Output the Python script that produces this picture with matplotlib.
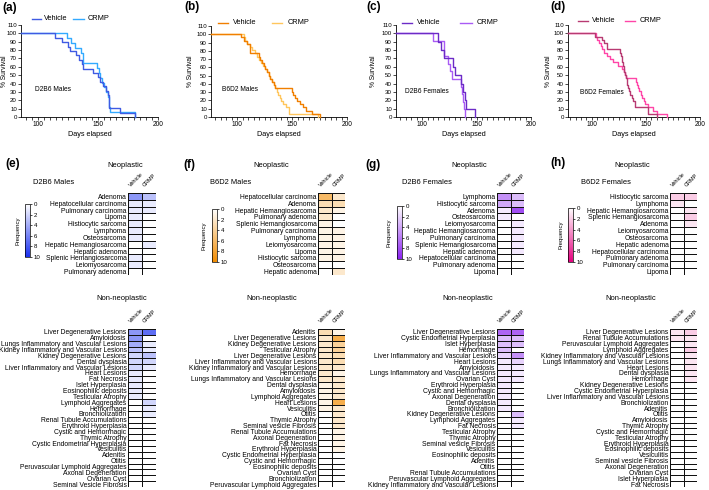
import numpy as np
import matplotlib
matplotlib.use('Agg')
import matplotlib.pyplot as plt
from matplotlib.colors import LinearSegmentedColormap, Normalize
from matplotlib.lines import Line2D
import matplotlib.cm as cm
from matplotlib.ticker import MultipleLocator

plt.rcParams['font.family'] = ['Liberation Sans', 'DejaVu Sans']

# ---------------- survival data (days, % survival after each event) ----------------
a_veh_t = [114, 120, 125, 127, 132, 134, 136.5, 138, 146, 150, 152, 154.5, 156.5, 158, 159.5, 168, 181]
a_veh_s = [94.7, 89.5, 84.2, 78.9, 73.7, 68.4, 63.2, 57.9, 52.6, 47.4, 42.1, 36.8, 31.6, 26.3, 10.5, 5.3, 0]
a_crmp_t = [124, 128, 131, 136, 138, 149, 150.5, 152, 153, 155, 157, 158, 159, 159.5, 160, 181]
a_crmp_s = [94.1, 88.2, 82.4, 76.5, 64.7, 58.8, 52.9, 47.1, 41.2, 35.3, 29.4, 23.5, 17.6, 11.8, 5.9, 0]

b_veh_t = [103.5, 106, 109, 112, 119.5, 121, 122.5, 124, 125.5, 127, 128.5, 130, 131.5, 133, 134.5,
           149.5, 151, 152.5, 154, 157, 160, 163, 168, 175.5]
b_veh_s = [96.2, 92.3, 88.5, 76.9, 73.1, 69.2, 65.4, 61.5, 57.7, 53.8, 50.0, 46.2, 42.3, 38.5, 34.6,
           30.8, 26.9, 23.1, 19.2, 15.4, 11.5, 7.7, 3.8, 0]
b_crmp_t = [106, 107, 109, 112, 113, 116, 118, 120, 121.5, 123.5, 125.5, 127, 128.5, 130, 131.5, 133,
            134.5, 136, 137, 138.5, 140, 142, 144, 147, 174]
b_crmp_s = [96.2, 92.3, 88.5, 84.6, 80.8, 76.9, 73.1, 69.2, 65.4, 61.5, 57.7, 53.8, 50.0, 46.2, 42.3, 38.5,
            34.6, 30.8, 26.9, 23.1, 19.2, 15.4, 11.5, 3.8, 0]

c_veh_t = [115, 117, 120.3, 128, 130.3, 136, 137.6, 139, 140.6, 149]
c_veh_s = [90, 80, 70, 60, 50, 40, 30, 20, 10, 0]
c_crmp_t = [110.3, 120, 124, 125.5, 127, 135.5, 136.5, 137.5, 138.3, 139]
c_crmp_s = [90.9, 72.7, 63.6, 54.5, 45.5, 36.4, 27.3, 18.2, 9.1, 0]

d_veh_t = [102.8, 109.6, 111.4, 113.6, 125.9, 126.9, 127.5, 128.1, 129, 129.6, 130.2, 130.9, 131.5,
           132.1, 132.7, 133.3, 134.3, 135.5, 136.7, 138.3, 139.8, 152.2, 159.9]
d_veh_s = [96.2, 92.3, 88.5, 80.8, 76.9, 73.1, 69.2, 65.4, 61.5, 57.7, 53.8, 50, 46.2,
           42.3, 38.5, 34.6, 30.8, 26.9, 23.1, 19.2, 11.5, 3.8, 0]
d_crmp_t = [104.3, 105.2, 106.5, 108.3, 109.6, 111.1, 113.6, 116.7, 119.8, 124.4, 128.1, 129.6, 130.6,
            131.8, 140.4, 141.4, 142.3, 143.8, 145.1, 146.6, 147.8, 149.1, 152.2, 156.8, 159.9, 169.1]
d_crmp_s = [96.2, 92.3, 88.5, 84.6, 80.8, 76.9, 73.1, 69.2, 65.4, 61.5, 57.7, 53.8, 50,
            46.2, 42.3, 38.5, 34.6, 30.8, 26.9, 23.1, 19.2, 15.4, 11.5, 7.7, 3.8, 0]

y_ticks = list(range(0, 111, 10))
x_labels = [100, 150, 200]

# ---------------- heatmap data ----------------
e_neo_labels = ['Adenoma', 'Hepatocellular carcinoma', 'Pulmonary carcinoma', 'Lipoma', 'Histiocytic sarcoma',
                'Lymphoma', 'Osteosarcoma', 'Hepatic Hemangiosarcoma', 'Hepatic adenoma',
                'Splenic Hemangiosarcoma', 'Leiomyosarcoma', 'Pulmonary adenoma']
e_neo_veh = [5, 1, 1, 1, 1, 1, 1, 0, 0, 1, 1, 0]
e_neo_crmp = [3, 1, 1, 0, 0, 0, 0, 1, 0, 0, 0, 0]
e_non_labels = ['Liver Degenerative Lesions', 'Amyloidosis', 'Lungs Inflammatory and Vascular Lesions',
                'Kidney Inflammatory and Vascular Lesions', 'Kidney Degenerative Lesions', 'Dental dysplasia',
                'Liver Inflammatory and Vascular Lesions', 'Heart Lesions', 'Fat Necrosis', 'Islet Hyperplasia',
                'Eosinophilic deposits', 'Testicular Atrophy', 'Lymphoid Aggregates', 'Hemorrhage',
                'Bronchiolization', 'Renal Tubule Accumulations', 'Erythroid Hyperplasia', 'Cystic and Hemorrhagic',
                'Thymic Atrophy', 'Cystic Endometrial Hyperplasia', 'Vesiculitis', 'Adenitis', 'Otitis',
                'Peruvascular Lymphoid Aggregates', 'Axonal Degeneration', 'Ovarian Cyst', 'Seminal Vesicle Fibrosis']
e_non_veh = [5, 5, 4, 3, 2, 2, 2, 1, 1, 1, 1, 1, 0, 0, 0, 0, 0, 0, 0, 0, 0, 0, 0, 0, 0, 0, 0]
e_non_crmp = [7, 0, 1, 1, 3, 2, 1, 0, 0, 0, 0, 0, 2, 1, 1, 0, 0, 0, 0, 0, 0, 0, 0, 0, 0, 0, 0]

f_neo_labels = ['Hepatocellular carcinoma', 'Adenoma', 'Hepatic Hemangiosarcoma', 'Pulmonary adenoma',
                'Splenic Hemangiosarcoma', 'Pulmonary carcinoma', 'Lymphoma', 'Leiomyosarcoma', 'Lipoma',
                'Histiocytic sarcoma', 'Osteosarcoma', 'Hepatic adenoma']
f_neo_veh = [6, 3, 2, 2, 1, 1, 1, 1, 1, 1, 0, 0]
f_neo_crmp = [2, 3, 1, 0, 0, 1, 1, 1, 1, 1, 0, 2]
f_non_labels = ['Adenitis', 'Liver Degenerative Lesions', 'Kidney Degenerative Lesions', 'Testicular Atrophy',
                'Liver Degenerative Lesions', 'Liver Inflammatory and Vascular Lesions',
                'Kidney Inflammatory and Vascular Lesions', 'Hemorrhage', 'Lungs Inflammatory and Vascular Lesions',
                'Dental dysplasia', 'Amyloidosis', 'Lymphoid Aggregates', 'Heart Lesions', 'Vesiculitis', 'Otitis',
                'Thymic Atrophy', 'Seminal vesicle Fibrosis', 'Renal Tubule Accumulations', 'Axonal Degeneration',
                'Fat Necrosis', 'Erythroid Hyperplasia', 'Cystic Endometrial Hyperplasia', 'Cystic and Hemorrhagic',
                'Eosinophilic deposits', 'Ovarian Cyst', 'Bronchiolization', 'Peruvascular Lymphoid Aggregates']
f_non_veh = [3, 2, 2, 2, 2, 2, 2, 2, 2, 1, 1, 1, 1, 1, 0, 0, 0, 0, 0, 0, 0, 0, 0, 0, 0, 0, 0]
f_non_crmp = [1, 7, 4, 4, 3, 3, 2, 1, 2, 2, 2, 2, 7, 2, 2, 2, 2, 1, 1, 1, 1, 0, 0, 0, 0, 0, 0]

g_neo_labels = ['Lymphoma', 'Histiocytic sarcoma', 'Adenoma', 'Osteosarcoma', 'Leiomyosarcoma',
                'Hepatic Hemangiosarcoma', 'Pulmonary carcinoma', 'Splenic Hemangiosarcoma', 'Hepatic adenoma',
                'Hepatocellular carcinoma', 'Pulmonary adenoma', 'Lipoma']
g_neo_veh = [5, 4, 1, 1, 0, 0, 0, 0, 0, 0, 0, 0]
g_neo_crmp = [3, 3, 8, 0, 1, 1, 1, 1, 1, 0, 0, 0]
g_non_labels = ['Liver Degenerative Lesions', 'Cystic Endometrial Hyperplasia', 'Islet Hyperplasia', 'Hemorrhage',
                'Liver Inflammatory and Vascular Lesions', 'Heart Lesions', 'Amyloidosis',
                'Lungs Inflammatory and Vascular Lesions', 'Ovarian Cyst', 'Erythroid Hyperplasia',
                'Cystic and Hemorrhagic', 'Axonal Degeneration', 'Dental dysplasia', 'Bronchiolization',
                'Kidney Degenerative Lesions', 'Lymphoid Aggregates', 'Fat Necrosis', 'Testicular Atrophy',
                'Thymic Atrophy', 'Seminal vesicle Fibrosis', 'Vesiculitis', 'Eosinophilic deposits', 'Adenitis',
                'Otitis', 'Renal Tubule Accumulations', 'Peruvascular Lymphoid Aggregates',
                'Kidney Inflammatory and Vascular Lesions']
g_non_veh = [7, 3, 3, 3, 2, 1, 1, 1, 1, 1, 1, 1, 1, 1, 0, 0, 0, 0, 0, 0, 0, 0, 0, 0, 0, 0, 0]
g_non_crmp = [7, 3, 3, 0, 5, 2, 1, 1, 1, 0, 0, 0, 0, 0, 3, 1, 1, 0, 0, 0, 0, 0, 0, 0, 0, 0, 0]

h_neo_labels = ['Histiocytic sarcoma', 'Lymphoma', 'Hepatic Hemangiosarcoma', 'Splenic Hemangiosarcoma', 'Adenoma',
                'Leiomyosarcoma', 'Osteosarcoma', 'Hepatic adenoma', 'Hepatocellular carcinoma',
                'Pulmonary adenoma', 'Pulmonary carcinoma', 'Lipoma']
h_neo_veh = [2, 1, 0, 0, 0, 0, 0, 0, 0, 0, 0, 0]
h_neo_crmp = [2, 0, 1, 2, 1, 0, 0, 0, 0, 0, 0, 0]
h_non_labels = ['Liver Degenerative Lesions', 'Renal Tubule Accumulations', 'Peruvascular Lymphoid Aggregates',
                'Lymphoid Aggregates', 'Kidney Inflammatory and Vascular Lesions',
                'Lungs Inflammatory and Vascular Lesions', 'Heart Lesions', 'Dental dysplasia', 'Hemorrhage',
                'Kidney Degenerative Lesions', 'Cystic Endometrial Hyperplasia',
                'Liver Inflammatory and Vascular Lesions', 'Bronchiolization', 'Adenitis', 'Otitis', 'Amyloidosis',
                'Thymic Atrophy', 'Cystic and Hemorrhagic', 'Testicular Atrophy', 'Erythroid Hyperplasia',
                'Eosinophilic deposits', 'Vesiculitis', 'Seminal vesicle Fibrosis', 'Axonal Degeneration',
                'Ovarian Cyst', 'Islet Hyperplasia', 'Fat Necrosis']
h_non_veh = [1, 1, 0, 0, 0, 0, 0, 0, 0, 0, 0, 0, 0, 0, 0, 0, 0, 0, 0, 0, 0, 0, 0, 0, 0, 0, 0]
h_non_crmp = [2, 1, 1, 2, 1, 1, 1, 1, 1, 0, 0, 0, 0, 0, 0, 0, 0, 0, 0, 0, 0, 0, 0, 0, 0, 0, 0]

cbar_ticks = [0, 2, 4, 6, 8, 10]
col_names = ['Vehicle', 'CRMP']

# ---------------- figure ----------------
W, H = 709, 490
fig = plt.figure(figsize=(W / 100, H / 100), dpi=100)


def box(l, t, r, b):
    return [l / W, 1 - b / H, (r - l) / W, (b - t) / H]


def ftext(x, y, s, **kw):
    fig.text(x / W, 1 - y / H, s, **kw)


def surv_panel(rect, xlim, vt, vs, ct, cs, col_v, col_c, name, name_x, name_y,
               leg, ylab_x, letter, letter_xy):
    ax = fig.add_axes(box(*rect))
    x0 = xlim[0]
    ax.step([x0] + ct, [100] + cs, where='post', color=col_c, lw=1.0, clip_on=False, zorder=3)
    ax.step([x0] + vt, [100] + vs, where='post', color=col_v, lw=1.0, clip_on=False, zorder=3)
    ax.set_xlim(*xlim)
    ax.set_ylim(0, 110)
    ax.set_yticks(y_ticks)
    ax.set_yticklabels([str(v) for v in y_ticks], fontsize=4.4)
    ax.set_xticks(x_labels)
    ax.set_xticklabels([str(v) for v in x_labels], fontsize=4.8)
    ax.xaxis.set_minor_locator(MultipleLocator(5))
    ax.tick_params(which='both', length=2, width=0.5, pad=1)
    for s in ['top', 'right']:
        ax.spines[s].set_visible(False)
    for s in ['left', 'bottom']:
        ax.spines[s].set_linewidth(0.6)
    ax.set_xlabel('Days elapsed', fontsize=5.2, labelpad=2)
    ax.text(name_x, name_y, name, fontsize=4.8, ha='left', va='center')
    ftext(ylab_x, 71, '% Survival', fontsize=4.8, rotation=90, ha='center', va='center')
    ftext(letter_xy[0], letter_xy[1], letter, fontsize=8.5, fontweight='bold', ha='center', va='center')
    # legend
    (v1, v2, vtx, c1, c2, ctx, ly) = leg
    for (x1, x2, tx, col, lab) in [(v1, v2, vtx, col_v, 'Vehicle'), (c1, c2, ctx, col_c, 'CRMP')]:
        fig.add_artist(Line2D([x1 / W, x2 / W], [1 - ly / H, 1 - ly / H], transform=fig.transFigure,
                              color=col, lw=1.0))
        ftext(tx, ly, lab, fontsize=5.3, ha='left', va='center')
    return ax


surv_panel((21, 25, 158, 117), (86, 200), a_veh_t, a_veh_s, a_crmp_t, a_crmp_s, '#3F5BE3', '#33AAFF',
           'D2B6 Males', 97.5, 33, (32, 41, 44, 73, 84, 88, 19), 5, '(a)', (10, 8))
surv_panel((211, 26, 347, 117), (76, 200), b_veh_t, b_veh_s, b_crmp_t, b_crmp_s, '#F07F00', '#FFC65C',
           'B6D2 Males', 86, 33, (218, 228, 233, 272, 282, 288, 23), 190, '(b)', (192, 7))
surv_panel((396, 25, 531, 117), (76, 200), c_veh_t, c_veh_s, c_crmp_t, c_crmp_s, '#6C2BC7', '#A95BF5',
           'D2B6 Females', 84.5, 30, (402, 412, 417, 460, 472, 477, 23), 374, '(c)', (374, 7))
surv_panel((568, 25, 700, 117), (78, 200), d_veh_t, d_veh_s, d_crmp_t, d_crmp_s, '#B83A72', '#FF45A8',
           'B6D2 Females', 89, 29, (578, 588, 592, 625, 635, 640, 21), 548, '(d)', (558, 7))


def make_cmap(c):
    return LinearSegmentedColormap.from_list('m', ['#FFFFFF', c])


def heat(rect, labels, v, c, cmap):
    ax = fig.add_axes(box(*rect))
    data = np.column_stack([v, c])
    n = len(labels)
    ax.pcolormesh(np.arange(3), np.arange(n + 1), data, cmap=cmap, vmin=0, vmax=10,
                  edgecolors='#111111', linewidth=0.6)
    ax.set_xlim(0, 2)
    ax.set_ylim(n, 0)
    ax.set_yticks(np.arange(n) + 0.5)
    ax.set_yticklabels(labels, fontsize=4.85)
    ax.set_xticks([])
    ax.tick_params(length=0, pad=1)
    for s in ax.spines.values():
        s.set_visible(False)
    for i, nm in enumerate(col_names):
        ax.annotate(nm, xy=(i, 0), xytext=(2.5, 3.5), textcoords='offset points', rotation=45,
                    rotation_mode='anchor', ha='left', va='bottom', fontsize=4.0, annotation_clip=False)
    return ax


def cbar(rect, cmap, lab_x):
    cax = fig.add_axes(box(*rect))
    sm = cm.ScalarMappable(norm=Normalize(0, 10), cmap=cmap)
    cb = fig.colorbar(sm, cax=cax)
    cb.set_ticks(cbar_ticks)
    cax.set_ylim(10, 0)
    cax.tick_params(labelsize=4.4, length=1.5, width=0.5, pad=1)
    cb.outline.set_linewidth(0.5)
    t, b = rect[1], rect[3]
    ftext(lab_x, (t + b) / 2, 'Frequency', fontsize=4.3, rotation=90, ha='center', va='center')


panels = [
    dict(cmap='#1A30F0', neo=(e_neo_labels, e_neo_veh, e_neo_crmp), non=(e_non_labels, e_non_veh, e_non_crmp),
         hx=(128, 156), cb=(25, 204, 30, 257), cbl=18, letter='(e)', lxy=(13, 164), neo_c=125, non_c=122,
         grp='D2B6 Males', gx=54),
    dict(cmap='#F28C00', neo=(f_neo_labels, f_neo_veh, f_neo_crmp), non=(f_non_labels, f_non_veh, f_non_crmp),
         hx=(318, 345), cb=(212, 209, 217, 262), cbl=204, letter='(f)', lxy=(189, 165), neo_c=271, non_c=272,
         grp='B6D2 Males', gx=231),
    dict(cmap='#8A22F0', neo=(g_neo_labels, g_neo_veh, g_neo_crmp), non=(g_non_labels, g_non_veh, g_non_crmp),
         hx=(497, 524), cb=(397, 206, 402, 259), cbl=389, letter='(g)', lxy=(373, 165), neo_c=469, non_c=468,
         grp='D2B6 Females', gx=427),
    dict(cmap='#E5007E', neo=(h_neo_labels, h_neo_veh, h_neo_crmp), non=(h_non_labels, h_non_veh, h_non_crmp),
         hx=(670, 697), cb=(568, 208, 573, 262), cbl=561, letter='(h)', lxy=(558, 163), neo_c=632, non_c=631,
         grp='B6D2 Females', gx=606),
]

for p in panels:
    cm_ = make_cmap(p['cmap'])
    l, r = p['hx']
    heat((l, 193, r, 275), *p['neo'], cm_)
    heat((l, 329, r, 487), *p['non'], cm_)
    cbar(p['cb'], cm_, p['cbl'])
    ftext(p['lxy'][0], p['lxy'][1], p['letter'], fontsize=8.5, fontweight='bold', ha='center', va='center')
    ftext(p['neo_c'], 165, 'Neoplastic', fontsize=5.4, ha='center', va='center')
    ftext(p['non_c'], 299, 'Non-neoplastic', fontsize=5.4, ha='center', va='center')
    ftext(p['gx'], 182, p['grp'], fontsize=5.4, ha='center', va='center')

fig.savefig('out.png', dpi=100)
